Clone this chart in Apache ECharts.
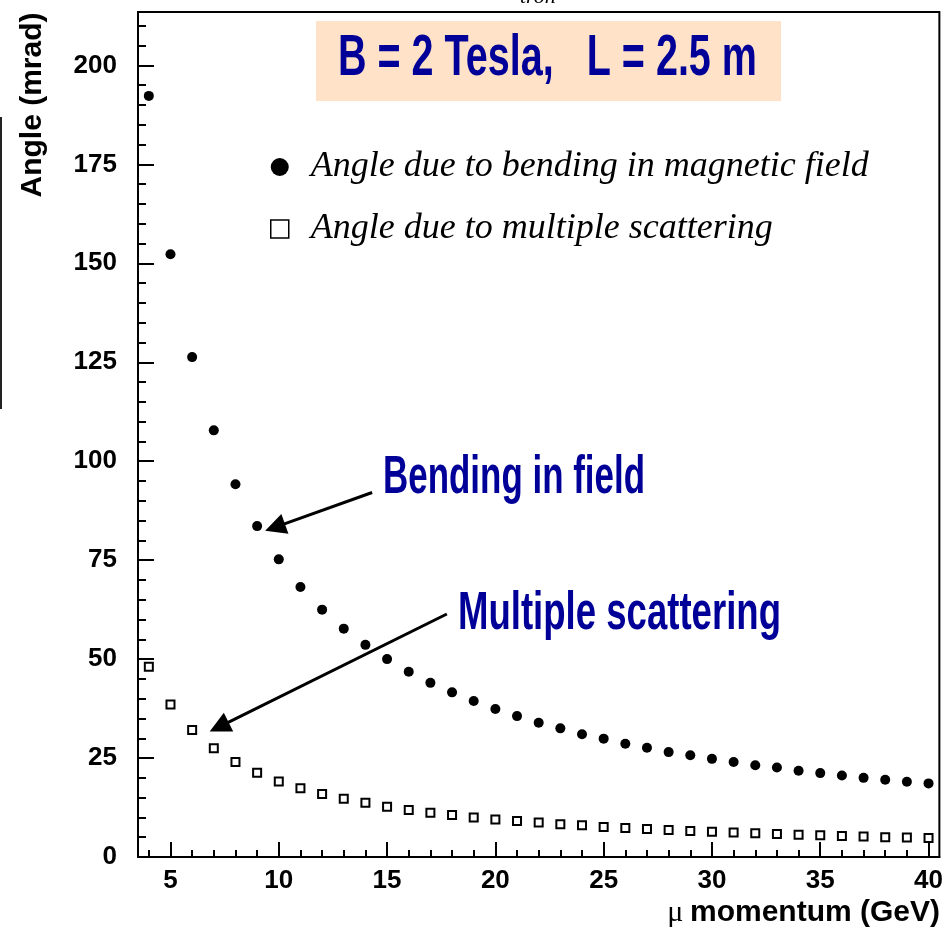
<!DOCTYPE html>
<html>
<head>
<meta charset="utf-8">
<title>Muon bending vs multiple scattering</title>
<script src="https://cdn.jsdelivr.net/npm/echarts@6/dist/echarts.min.js"></script>
<style>
  html, body { margin: 0; padding: 0; background: #ffffff; }
  #chart { width: 946px; height: 929px; }
</style>
</head>
<body>
<div id="chart"></div>
<script>
// Muon momentum (GeV)
const momentum = [4, 5, 6, 7, 8, 9, 10, 11, 12, 13, 14, 15, 16, 17, 18, 19, 20, 21, 22,
  23, 24, 25, 26, 27, 28, 29, 30, 31, 32, 33, 34, 35, 36, 37, 38, 39, 40];

// Deflection angle from bending in the magnetic field (mrad)
const bendingAngle = [192.3, 152.3, 126.3, 107.8, 94.2, 83.6, 75.2, 68.2, 62.5, 57.7,
  53.6, 50.0, 46.8, 44.0, 41.6, 39.4, 37.4, 35.6, 33.9, 32.5, 31.0, 29.9, 28.6, 27.6,
  26.5, 25.7, 24.8, 24.0, 23.2, 22.6, 21.8, 21.2, 20.6, 20.0, 19.5, 19.0, 18.6];

// Deflection angle from multiple scattering in the iron (mrad)
const scatteringAngle = [48.1, 38.5, 32.1, 27.5, 24.0, 21.3, 19.1, 17.4, 15.9, 14.7,
  13.7, 12.7, 11.9, 11.2, 10.6, 10.0, 9.5, 9.1, 8.7, 8.3, 8.0, 7.6, 7.3, 7.1, 6.8, 6.6,
  6.4, 6.2, 6.0, 5.8, 5.6, 5.5, 5.3, 5.2, 5.0, 4.9, 4.8];

// Axis ticks and labels
const xMajorTicks = [5, 10, 15, 20, 25, 30, 35, 40];
const xMinorTicks = [4, 5, 6, 7, 8, 9, 10, 11, 12, 13, 14, 15, 16, 17, 18, 19, 20, 21, 22,
  23, 24, 25, 26, 27, 28, 29, 30, 31, 32, 33, 34, 35, 36, 37, 38, 39, 40];
const yMajorTicks = [0, 25, 50, 75, 100, 125, 150, 175, 200];
const yMinorTicks = [0, 5, 10, 15, 20, 25, 30, 35, 40, 45, 50, 55, 60, 65, 70, 75, 80, 85,
  90, 95, 100, 105, 110, 115, 120, 125, 130, 135, 140, 145, 150, 155, 160, 165, 170, 175,
  180, 185, 190, 195, 200, 205, 210];

// Text of the plot
const seriesNames = ['Angle due to bending in magnetic field', 'Angle due to multiple scattering'];
const fieldText = 'B = 2 Tesla,   L = 2.5 m';
const bendingNote = 'Bending in field';
const scatteringNote = 'Multiple scattering';
const xTitleSymbol = '\u03bc';
const xTitle = 'momentum (GeV)';
const yTitle = 'Angle (mrad)';

// Annotation arrows in data coordinates: [from, to]
const bendingArrow = [[14.31, 92.1], [9.37, 82.4]];
const scatteringArrow = [[17.76, 61.4], [6.81, 31.7]];

const SANS = '"Liberation Sans", Arial, Helvetica, sans-serif';
const SERIF = '"Liberation Serif", "Times New Roman", serif';
const NARROW = '"Liberation Sans Narrow", "Liberation Sans", sans-serif';
const BLUE = '#000099';

const chart = echarts.init(document.getElementById('chart'), null, { renderer: 'canvas' });

const tickLine = { color: '#000', width: 2 };
const tickLabel = { color: '#000', fontFamily: SANS, fontWeight: 'bold', fontSize: 26 };

const option = {
  animation: false,
  backgroundColor: '#ffffff',
  grid: {
    left: 138, right: 4, top: 12, bottom: 72,
    show: true, borderColor: '#000', borderWidth: 2, backgroundColor: 'transparent'
  },
  legend: {
    orient: 'vertical',
    left: 265, top: 144,
    itemWidth: 18, itemHeight: 18, itemGap: 26,
    selectedMode: false,
    textStyle: {
      fontFamily: SERIF, fontStyle: 'italic', fontSize: 36, lineHeight: 35,
      color: '#000', padding: [0, 0, 0, 17]
    },
    data: [
      { name: seriesNames[0], icon: 'circle', itemStyle: { color: '#000', opacity: 1 } },
      { name: seriesNames[1], icon: 'rect',
        itemStyle: { color: '#fff', borderColor: '#000', borderWidth: 1.5, opacity: 1 } }
    ]
  },
  xAxis: [
    {
      type: 'value', min: 3.5, max: 40.5, position: 'bottom',
      axisLine: { show: true, onZero: false, lineStyle: tickLine },
      axisTick: { show: true, inside: true, length: 15, lineStyle: tickLine, customValues: xMajorTicks },
      axisLabel: Object.assign({ customValues: xMajorTicks, margin: 11 }, tickLabel),
      splitLine: { show: false }
    },
    {
      type: 'value', min: 3.5, max: 40.5, position: 'bottom',
      axisLine: { show: false, onZero: false },
      axisTick: { show: true, inside: true, length: 7, lineStyle: tickLine, customValues: xMinorTicks },
      axisLabel: { show: false },
      splitLine: { show: false }
    }
  ],
  yAxis: [
    {
      type: 'value', min: 0, max: 213.5, position: 'left',
      axisLine: { show: true, onZero: false, lineStyle: tickLine },
      axisTick: { show: true, inside: true, length: 16, lineStyle: tickLine, customValues: yMajorTicks },
      axisLabel: Object.assign({ customValues: yMajorTicks, margin: 21 }, tickLabel),
      splitLine: { show: false }
    },
    {
      type: 'value', min: 0, max: 213.5, position: 'left', offset: 0,
      axisLine: { show: false, onZero: false },
      axisTick: { show: true, inside: true, length: 8, lineStyle: tickLine, customValues: yMinorTicks },
      axisLabel: { show: false },
      splitLine: { show: false }
    }
  ],
  series: [
    {
      name: seriesNames[0],
      type: 'scatter',
      xAxisIndex: 0, yAxisIndex: 0,
      symbol: 'circle', symbolSize: 10,
      itemStyle: { color: '#000', opacity: 1 },
      emphasis: { disabled: true },
      z: 4,
      data: momentum.map((p, i) => [p, bendingAngle[i]])
    },
    {
      name: seriesNames[1],
      type: 'scatter',
      xAxisIndex: 0, yAxisIndex: 0,
      symbol: 'rect', symbolSize: 8,
      itemStyle: { color: '#fff', borderColor: '#000', borderWidth: 2, opacity: 1 },
      emphasis: { disabled: true },
      z: 4,
      data: momentum.map((p, i) => [p, scatteringAngle[i]])
    }
  ]
};

chart.setOption(option);

// Horizontal squeeze factor so a string set in `font` spans `width` pixels
const measureCtx = document.createElement('canvas').getContext('2d');
function squeeze(text, font, width) {
  measureCtx.font = font;
  return width / measureCtx.measureText(text).width;
}

// Condensed blue caption: left edge, right edge, vertical centre of capitals, font size
function caption(text, left, right, midY, size) {
  const font = 'bold ' + size + 'px ' + NARROW;
  return {
    type: 'text', x: left, y: midY, z: 20,
    scaleX: squeeze(text, font, right - left),
    style: {
      text: text, fill: BLUE, font: font,
      textAlign: 'left', textVerticalAlign: 'middle'
    }
  };
}

// Straight arrow with a filled triangular head, ending at the data point `to`
function arrow(from, to) {
  const a = chart.convertToPixel({ xAxisIndex: 0, yAxisIndex: 0 }, from);
  const b = chart.convertToPixel({ xAxisIndex: 0, yAxisIndex: 0 }, to);
  const dx = b[0] - a[0], dy = b[1] - a[1];
  const len = Math.sqrt(dx * dx + dy * dy);
  const ux = dx / len, uy = dy / len;
  const headLen = 21, headHalf = 10.5;
  const bx = b[0] - ux * headLen, by = b[1] - uy * headLen;
  return [
    {
      type: 'line', z: 15,
      shape: { x1: a[0], y1: a[1], x2: bx + ux * 2, y2: by + uy * 2 },
      style: { stroke: '#000', lineWidth: 3 }
    },
    {
      type: 'polygon', z: 15,
      shape: { points: [[b[0], b[1]], [bx - uy * headHalf, by + ux * headHalf], [bx + uy * headHalf, by - ux * headHalf]] },
      style: { fill: '#000' }
    }
  ];
}

const graphics = [
  // field box
  {
    type: 'rect', z: 10,
    shape: { x: 316, y: 21, width: 465, height: 80 },
    style: { fill: '#FFE2C8' }
  },
  caption(fieldText, 338, 757, 59, 57),
  caption(bendingNote, 383, 645, 478, 54),
  caption(scatteringNote, 458, 781, 614, 54),
  ...arrow(bendingArrow[0], bendingArrow[1]),
  ...arrow(scatteringArrow[0], scatteringArrow[1]),
  // y-axis title
  {
    type: 'text', x: 32.5, y: 12.5, rotation: Math.PI / 2, z: 20,
    style: {
      text: yTitle, fill: '#000', font: 'bold 30px ' + SANS,
      textAlign: 'right', textVerticalAlign: 'middle'
    }
  },
  // x-axis title
  {
    type: 'text', x: 940, y: 913, z: 20,
    style: {
      text: '{mu|' + xTitleSymbol + '}  {t|' + xTitle + '}',
      textAlign: 'right', textVerticalAlign: 'middle',
      rich: {
        mu: { fontFamily: SERIF, fontSize: 30, fill: '#000' },
        t: { fontFamily: SANS, fontWeight: 'bold', fontSize: 30, fill: '#000' }
      }
    }
  },
  // fragment of a caption running off the top edge
  {
    type: 'text', x: 520, y: -3, z: 20,
    style: {
      text: 'tron', fill: '#000', font: 'italic 22px ' + SERIF,
      textAlign: 'left', textVerticalAlign: 'middle'
    }
  },
  // stray rule on the left margin
  {
    type: 'line', z: 20,
    shape: { x1: 1, y1: 117, x2: 1, y2: 409 },
    style: { stroke: '#222', lineWidth: 2 }
  }
];

chart.setOption({ graphic: graphics });
</script>
</body>
</html>
